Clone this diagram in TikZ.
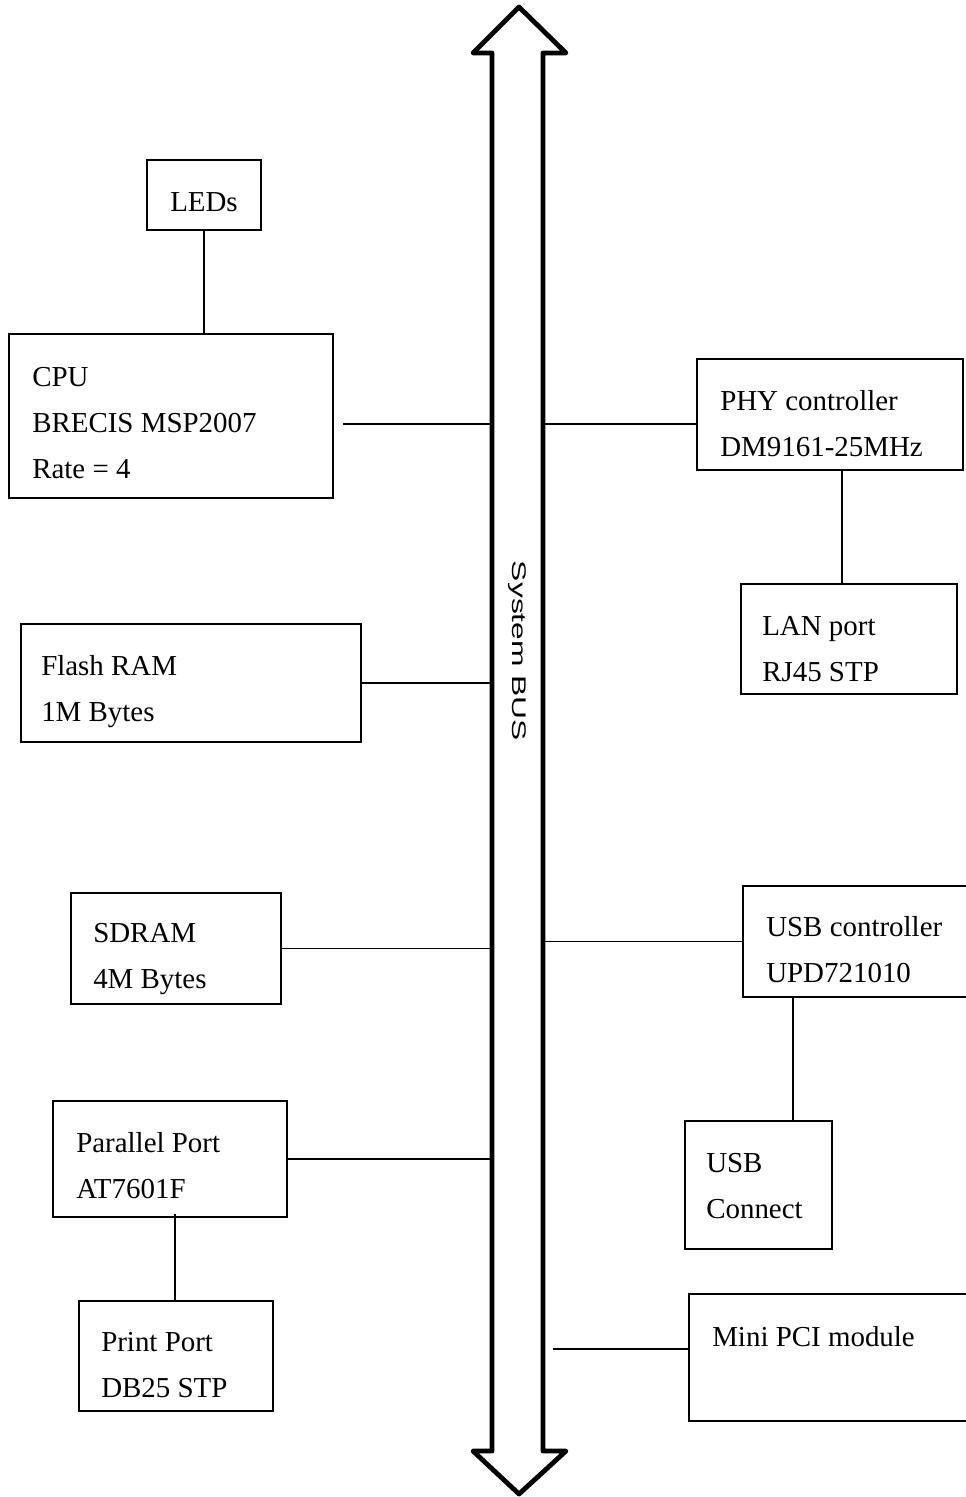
\documentclass[tikz,border=0pt]{standalone}
\usepackage{fontspec}
\usepackage{graphicx}
\setmainfont{Liberation Serif}
\newfontfamily\busfont{Liberation Sans}
\usetikzlibrary{fit}
\begin{document}
\begin{tikzpicture}[x=0.75pt,y=-0.75pt,
  box/.style={draw,line width=1.1pt,inner sep=0pt,rectangle},
  wire/.style={line width=1.1pt},
  lbl/.style={anchor=base west,inner sep=0pt,font=\fontsize{21.7}{34.5}\selectfont},
  busline/.style={line width=3.6pt,line join=round}]
\useasboundingbox (0,0) rectangle (965,1497);

% boxes
\node[box,fit={(147,160) (261,230)}] (leds) {};
\node[box,fit={(9,334) (333,498)}] (cpu) {};
\node[box,fit={(697,359) (963,470)}] (phy) {};
\node[box,fit={(741,584) (957,694)}] (lan) {};
\node[box,fit={(21,624) (361,742)}] (flash) {};
\node[box,fit={(71,893) (281,1004)}] (sdram) {};
\node[box,fit={(743,886) (968,997)}] (usbc) {};
\node[box,fit={(685,1121) (832,1249)}] (usbk) {};
\node[box,fit={(53,1101) (287,1217)}] (par) {};
\node[box,fit={(79,1301) (273,1411)}] (prt) {};
\node[box,fit={(689,1294) (968,1421)}] (mini) {};

% labels
\node[lbl,anchor=base] (ledsT) at (204,211.5) {LEDs};
\node[lbl] (cpuT) at (32,386.5) {\begin{tabular}[t]{@{}l@{}}CPU\\BRECIS MSP2007\\Rate = 4\end{tabular}};
\node[lbl] (phyT) at (720,410.5) {\begin{tabular}[t]{@{}l@{}}PHY controller\\DM9161-25MHz\end{tabular}};
\node[lbl] (lanT) at (762,635.5) {\begin{tabular}[t]{@{}l@{}}LAN port\\RJ45 STP\end{tabular}};
\node[lbl] (flashT) at (41,675.5) {\begin{tabular}[t]{@{}l@{}}Flash RAM\\1M Bytes\end{tabular}};
\node[lbl] (sdramT) at (93,942.5) {\begin{tabular}[t]{@{}l@{}}SDRAM\\4M Bytes\end{tabular}};
\node[lbl] (usbcT) at (766,936.5) {\begin{tabular}[t]{@{}l@{}}USB controller\\UPD721010\end{tabular}};
\node[lbl] (usbkT) at (706,1172.5) {\begin{tabular}[t]{@{}l@{}}USB\\Connect\end{tabular}};
\node[lbl] (parT) at (76,1152.5) {\begin{tabular}[t]{@{}l@{}}Parallel Port\\AT7601F\end{tabular}};
\node[lbl] (prtT) at (101,1351.5) {\begin{tabular}[t]{@{}l@{}}Print Port\\DB25 STP\end{tabular}};
\node[lbl] (miniT) at (712,1346.5) {Mini PCI module};

% bus reference coordinates
\coordinate (busL) at (492,424);
\coordinate (busR) at (543,424);

% connectors
\draw[wire] (leds.south) -- (leds.south |- cpu.north);
\coordinate (cpuW) at (343,424);
\draw[wire] (cpuW) -- (cpuW -| busL);
\coordinate (phyW) at (697,424);
\draw[wire] (phyW -| busR) -- (phyW);
\coordinate (lanN) at (842,584);
\draw[wire] (lanN |- phy.south) -- (lanN);
\draw[wire] (flash.east) -- (flash.east -| busL);
\draw[wire] (sdram.east) -- (sdram.east -| busL);
\draw[wire] (usbc.west) -- (usbc.west -| busR);
\coordinate (usbN) at (793,1121);
\draw[wire] (usbN |- usbc.south) -- (usbN);
\draw[wire] (par.east) -- (par.east -| busL);
\coordinate (parS) at (175,1214);
\draw[wire] (parS) -- (parS |- prt.north);
\coordinate (miniE) at (553,1349);
\coordinate (miniW) at (689,1349);
\draw[wire] (miniE) -- (miniW);

% system bus double arrow
\draw[busline] (492,1451) -- (492,53) -- (473,53) -- (519,7) -- (566,53) -- (543,53)
  -- (543,1451) -- (566,1451) -- (519,1494) -- (473,1451) -- cycle;
\node[rotate=-90,inner sep=0pt] (busT) at (517.5,651)
  {\busfont\fontsize{14.8}{17}\selectfont\scalebox{1.61}[1]{System BUS}};
\end{tikzpicture}
\end{document}
